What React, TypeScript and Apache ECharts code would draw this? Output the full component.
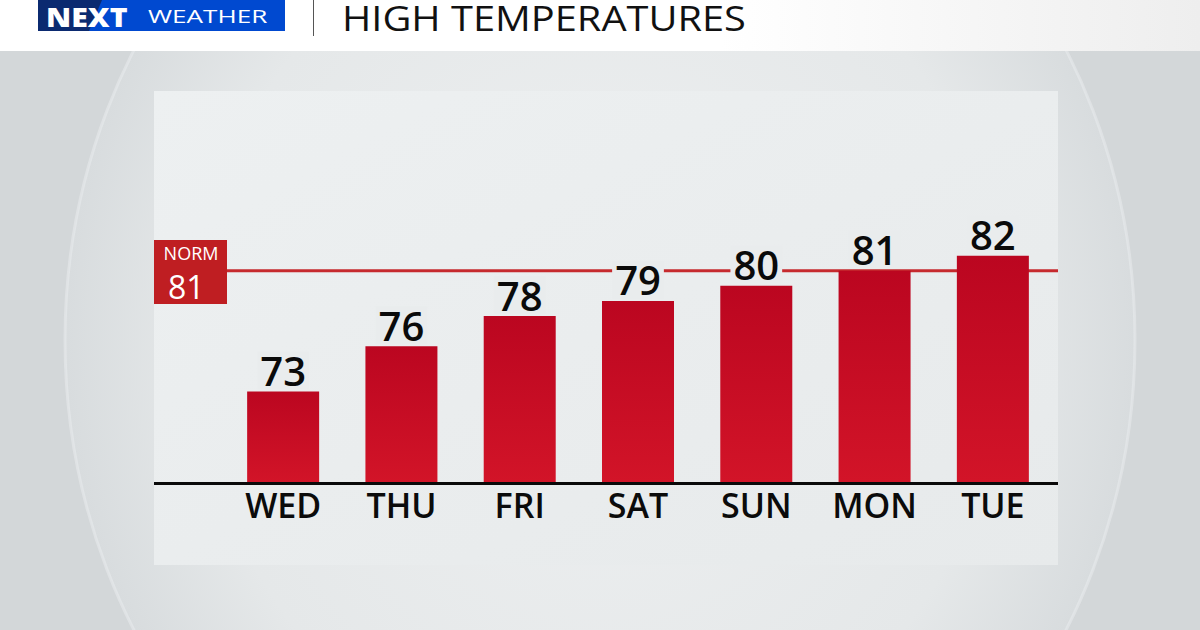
import React, { useEffect, useRef } from "react";
import * as echarts from "echarts";

const days = ["WED", "THU", "FRI", "SAT", "SUN", "MON", "TUE"];
const highs = [73, 76, 78, 79, 80, 81, 82];
const normalHigh = 81;
const yMin = 67;
const yMax = 90;
const title = "HIGH TEMPERATURES";

const FONT = "'Open Sans', 'Noto Sans', sans-serif";

function buildGraphics(yNorm: number, yBase: number) {
  return [
    { id: "bg", type: "rect", z: 0, silent: true, shape: { x: 0, y: 0, width: 1200, height: 630 }, style: { fill: "#D3D7D9" } },
    {
      id: "lens", type: "ellipse", z: 0, silent: true,
      shape: { cx: 600, cy: 340, rx: 535, ry: 590 },
      style: {
        fill: {
          type: "radial", x: 0.5, y: 0.5, r: 0.5,
          colorStops: [
            { offset: 0, color: "#EEF0F1" },
            { offset: 0.75, color: "#E5E8E9" },
            { offset: 1, color: "#D8DCDE" },
          ],
        },
        stroke: "rgba(238,240,241,0.45)",
        lineWidth: 3,
      },
    },
    {
      id: "panel", type: "rect", z: 0, silent: true,
      shape: { x: 154, y: 91, width: 904, height: 474 },
      style: {
        fill: {
          type: "linear", x: 0, y: 0, x2: 1, y2: 1,
          colorStops: [
            { offset: 0, color: "#EDF0F1" },
            { offset: 1, color: "#E7EAEB" },
          ],
        },
      },
    },
    { id: "normLine", type: "line", z: 1, silent: true, shape: { x1: 154, y1: yNorm, x2: 1058, y2: yNorm }, style: { stroke: "#C62A2E", lineWidth: 3 } },
    { id: "baseLine", type: "line", z: 5, silent: true, shape: { x1: 154, y1: yBase + 1.5, x2: 1058, y2: yBase + 1.5 }, style: { stroke: "#0A0A0A", lineWidth: 3 } },
    { id: "normBox", type: "rect", z: 6, silent: true, shape: { x: 154, y: 240, width: 73, height: 64 }, style: { fill: "#BF1E22" } },
    { id: "normTxt", type: "text", z: 7, silent: true, x: 191, y: 253, style: { text: "NORM", fill: "#FFFFFF", font: `500 18px ${FONT}`, textAlign: "center", textVerticalAlign: "middle" } },
    { id: "normVal", type: "text", z: 7, silent: true, x: 168, y: 286, style: { text: String(normalHigh), fill: "#FFFFFF", font: `500 32px ${FONT}`, textAlign: "left", textVerticalAlign: "middle" } },
    {
      id: "header", type: "rect", z: 10, silent: true,
      shape: { x: 0, y: 0, width: 1200, height: 51 },
      style: {
        fill: {
          type: "linear", x: 0, y: 0, x2: 1, y2: 0,
          colorStops: [
            { offset: 0, color: "#FFFFFF" },
            { offset: 0.6, color: "#FFFFFF" },
            { offset: 1, color: "#EEEEEE" },
          ],
        },
      },
    },
    { id: "logoBlue", type: "rect", z: 11, silent: true, shape: { x: 38, y: 0, width: 247, height: 31 }, style: { fill: "#0049D0" } },
    { id: "logoNavy", type: "polygon", z: 12, silent: true, shape: { points: [[38, 0], [102, 0], [89, 31], [38, 31]] }, style: { fill: "#0B2A70" } },
    { id: "logoNext", type: "text", z: 13, silent: true, x: 46, y: 16, scaleX: 1.12, style: { text: "NEXT", fill: "#FFFFFF", font: `800 27px ${FONT}`, textAlign: "left", textVerticalAlign: "middle" } },
    { id: "logoWeather", type: "text", z: 13, silent: true, x: 148, y: 16, scaleX: 1.45, style: { text: "WEATHER", fill: "#FFFFFF", font: `400 18px ${FONT}`, textAlign: "left", textVerticalAlign: "middle" } },
    { id: "divider", type: "line", z: 11, silent: true, shape: { x1: 313.5, y1: 0, x2: 313.5, y2: 36 }, style: { stroke: "#555555", lineWidth: 1 } },
    { id: "title", type: "text", z: 13, silent: true, x: 342, y: 18, scaleX: 1.17, style: { text: title, fill: "#111111", font: `400 34px ${FONT}`, textAlign: "left", textVerticalAlign: "middle" } },
  ];
}

export default function App() {
  const ref = useRef<HTMLDivElement>(null);
  useEffect(() => {
    if (!ref.current) return;
    const chart = echarts.init(ref.current, null, { renderer: "svg" });
    const option: any = {
      animation: false,
      backgroundColor: "transparent",
      grid: { left: 224, right: 148, top: 135, bottom: 148 },
      xAxis: {
        type: "category",
        data: days,
        axisLine: { show: false },
        axisTick: { show: false },
        axisLabel: { fontSize: 34, color: "#0B0B0B", fontFamily: FONT, fontWeight: 600, margin: 6 },
      },
      yAxis: { type: "value", min: yMin, max: yMax, show: false, splitLine: { show: false } },
      series: [
        {
          type: "bar",
          z: 2,
          data: highs,
          barWidth: 72,
          itemStyle: {
            color: {
              type: "linear", x: 0, y: 0, x2: 0, y2: 1,
              colorStops: [
                { offset: 0, color: "#BB0620" },
                { offset: 1, color: "#D21428" },
              ],
            },
          },
          label: {
            show: true,
            position: "top",
            distance: 2,
            fontSize: 40,
            lineHeight: 38,
            fontFamily: FONT,
            fontWeight: 600,
            color: "#0A0A0A",
            backgroundColor: "#E9ECED",
            padding: [0, 3, 0, 3],
          },
        },
      ],
      graphic: { elements: buildGraphics(272, 482) },
    };
    chart.setOption(option);
    const yNorm = chart.convertToPixel({ yAxisIndex: 0 }, normalHigh) as number;
    const yBase = chart.convertToPixel({ yAxisIndex: 0 }, yMin) as number;
    chart.setOption({ graphic: { elements: buildGraphics(yNorm, yBase) } });
    return () => chart.dispose();
  }, []);
  return <div ref={ref} style={{ position: "absolute", left: 0, top: 0, width: 1200, height: 630 }} />;
}
